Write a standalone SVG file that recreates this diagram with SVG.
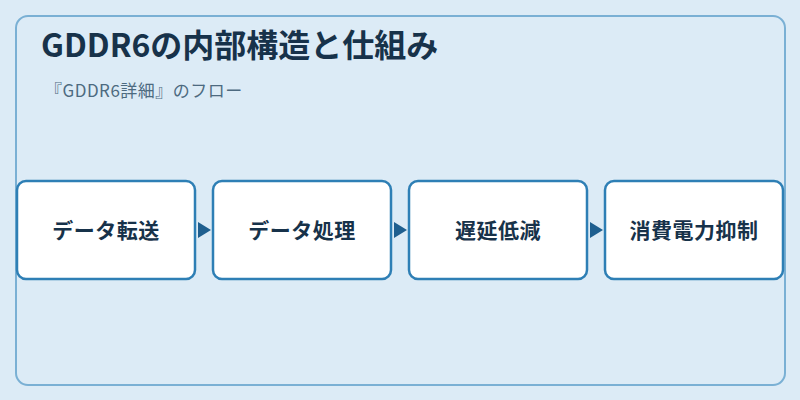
<svg xmlns="http://www.w3.org/2000/svg" width="800" height="400" viewBox="0 0 800 400">
<style>
.title{font-family:"Noto Sans CJK JP","Noto Sans",sans-serif;font-weight:700;font-size:32px;fill:#17324a}
.sub{font-family:"Noto Sans CJK JP","Noto Sans",sans-serif;font-size:17px;letter-spacing:0.5px;fill:#4d6a80}
.box{fill:#ffffff;stroke:#2e7fb5;stroke-width:2.5}
.lbl{font-family:"Noto Sans CJK JP","Noto Sans",sans-serif;font-weight:700;font-size:21px;letter-spacing:0.5px;fill:#17324a;text-anchor:middle}
.arr{fill:#1f5f8f}
</style>
<rect x="0" y="0" width="800" height="400" fill="#dcebf6"/>
<rect x="16" y="16" width="769" height="369" rx="12" fill="#dcebf6" stroke="#7ab0d4" stroke-width="2"/>
<text class="title" x="41" y="57">GDDR6の内部構造と仕組み</text>
<text class="sub" x="45" y="97">『GDDR6詳細』のフロー</text>
<g id="connectors">
<polygon class="arr" points="198,222 211,230 198,238"/>
<polygon class="arr" points="394,222 407,230 394,238"/>
<polygon class="arr" points="590,222 603,230 590,238"/>
</g>
<g id="node1"><rect class="box" x="17" y="181" width="178" height="98" rx="9"/><text class="lbl" x="106" y="238">データ転送</text></g>
<g id="node2"><rect class="box" x="213" y="181" width="178" height="98" rx="9"/><text class="lbl" x="302" y="238">データ処理</text></g>
<g id="node3"><rect class="box" x="409" y="181" width="178" height="98" rx="9"/><text class="lbl" x="498" y="238">遅延低減</text></g>
<g id="node4"><rect class="box" x="605" y="181" width="178" height="98" rx="9"/><text class="lbl" x="694" y="238">消費電力抑制</text></g>
</svg>
